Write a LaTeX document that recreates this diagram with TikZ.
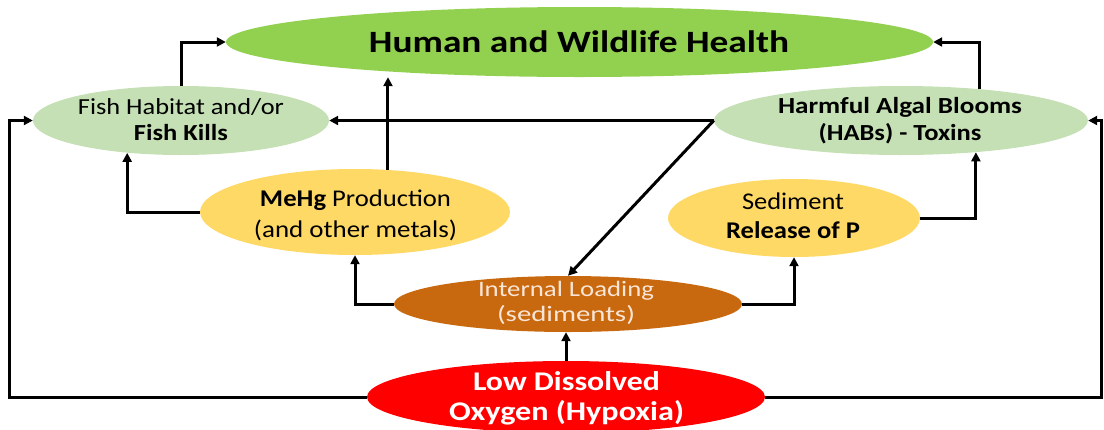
\documentclass[tikz,border=0pt]{standalone}
\usepackage{fontspec}
\setmainfont{Carlito}
\usepackage{graphicx}
\usetikzlibrary{shapes.geometric,arrows.meta}
\definecolor{hwgreen}{RGB}{146,208,80}
\definecolor{lgreen}{RGB}{197,224,180}
\definecolor{yel}{RGB}{255,217,102}
\definecolor{ilbrown}{RGB}{200,105,15}
\definecolor{iltext}{RGB}{251,229,214}
\definecolor{ldored}{RGB}{255,0,0}
\newcommand\rl[2]{\resizebox{#1pt}{\height}{#2}}
\tikzset{
  el/.style={ellipse, draw=none, inner sep=0pt},
  ln/.style={anchor=base, inner sep=0pt},
  arr/.style={line width=3pt, -{Triangle[length=9pt,width=9pt]}},
  ln26/.style={ln, font=\fontsize{31}{35}\selectfont\bfseries},
  ln21/.style={ln, font=\fontsize{23}{27}\selectfont},
  ln22/.style={ln, font=\fontsize{24}{28}\selectfont},
  ln20/.style={ln, font=\fontsize{22}{26}\selectfont, text=iltext},
  ln25/.style={ln, font=\fontsize{27}{31}\selectfont\bfseries, text=white}
}
\begin{document}
\begin{tikzpicture}[x=1pt,y=-1pt]
\useasboundingbox (0,0) rectangle (1104,429);
\clip (0,0) rectangle (1104,429);
% ellipses
\node[el, fill=hwgreen, minimum width=707pt, minimum height=70pt] (hw) at (579.5,42) {};
\node[el, fill=lgreen, minimum width=296pt, minimum height=69pt] (fish) at (181,120.5) {};
\node[el, fill=lgreen, minimum width=374pt, minimum height=69pt] (hab) at (901,120.5) {};
\node[el, fill=yel, minimum width=310pt, minimum height=86pt] (mehg) at (355,212) {};
\node[el, fill=yel, minimum width=252pt, minimum height=78pt] (sed) at (794,218) {};
\node[el, fill=ilbrown, minimum width=348pt, minimum height=56pt] (il) at (568,304) {};
\node[el, fill=ldored, minimum width=398pt, minimum height=72pt] (ldo) at (566,397) {};
% texts
\node[ln26] (hwt) at (579,52) {\rl{420}{Human and Wildlife Health}};
\node[ln21] (fisht1) at (181,114) {\rl{206}{Fish Habitat and/or}};
\node[ln21] (fisht2) at (181,140) {\rl{94}{\bfseries Fish Kills}};
\node[ln21] (habt1) at (900,113) {\rl{244}{\bfseries Harmful Algal Blooms}};
\node[ln21] (habt2) at (900,140) {\rl{163}{\bfseries (HABs) - Toxins}};
\node[ln22] (mehgt1) at (355.5,206) {\rl{191}{\textbf{MeHg} Production}};
\node[ln22] (mehgt2) at (355.5,237) {\rl{203}{(and other metals)}};
\node[ln22] (sedt1) at (793,209) {\rl{102}{Sediment}};
\node[ln22] (sedt2) at (793,238) {\rl{134}{\bfseries Release of P}};
\node[ln20] (ilt1) at (566,296) {\rl{176}{Internal Loading}};
\node[ln20] (ilt2) at (566,321) {\rl{138}{(sediments)}};
\node[ln25] (ldot1) at (566.5,390) {\rl{187}{Low Dissolved}};
\node[ln25] (ldot2) at (566.5,420) {\rl{235}{Oxygen (Hypoxia)}};
% helper corners
\coordinate (lc) at (9,397);
\coordinate (rc) at (1101,397);
% connectors
\draw[arr] (fish.north) |- (hw.west);
\draw[arr] (hab.22) |- (hw.east);
\draw[arr] (mehg.52) -- (mehg.52 |- hw.south);
\draw[arr] (mehg.west) -| (fish.211);
\draw[arr] (il.west) -| (mehg.south);
\draw[arr] (il.east) -| (sed.south);
\draw[arr] (sed.east) -| (hab.337);
\draw[arr] (ldo.north) -- (ldo.north |- il.south);
\draw[arr] (hab.west) -- (fish.east);
\draw[arr] (hab.west) -- (il.north);
\draw[arr] (ldo.west) -- (lc) |- (fish.west);
\draw[arr] (ldo.east) -- (rc) |- (hab.east);
\end{tikzpicture}
\end{document}
